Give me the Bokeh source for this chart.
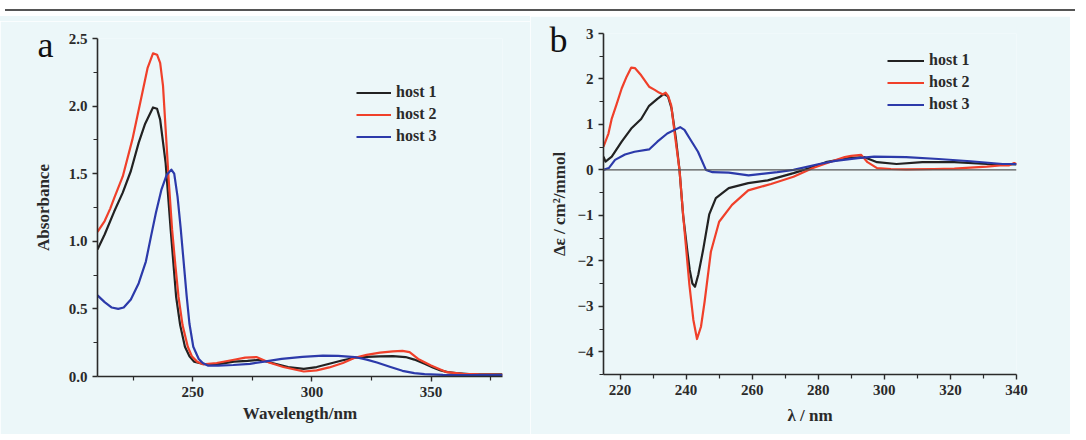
from bokeh.plotting import figure
from bokeh.layouts import row, column
from bokeh.models import (Range1d, FixedTicker, Legend, LegendItem, Span, Div,
                          LinearAxis, CustomJSTickFormatter)
from bokeh.embed import file_html
from bokeh.resources import INLINE

# ---------------- data: panel a (UV-Vis absorbance) ----------------
host1_a_x = [210, 213, 217, 220.6, 224, 227.3, 230, 233.3, 235, 236.3, 238.6, 240.7, 243, 244.7, 246.7, 248.6, 250.5,
             254, 260, 267.3, 273, 278, 284.6, 290, 296.6, 302, 307.3, 313, 318, 323, 328.6, 334, 339.3,
             343, 347.3, 351, 354, 357, 360.6, 366, 372, 380]
host1_a_y = [0.94, 1.05, 1.22, 1.36, 1.52, 1.73, 1.87, 1.99, 1.98, 1.90, 1.58, 1.09, 0.59, 0.38, 0.22, 0.15, 0.11,
             0.094, 0.09, 0.11, 0.115, 0.124, 0.094, 0.07, 0.057, 0.07, 0.094, 0.12, 0.139, 0.145, 0.149, 0.15, 0.144,
             0.125, 0.094, 0.065, 0.045, 0.032, 0.025, 0.018, 0.015, 0.015]

host2_a_x = [210, 213, 215.3, 217, 220.6, 224.6, 228.6, 231, 233.3, 235, 236.3, 237.5, 238.6, 239.9, 241.3, 242.7, 244,
             245.7, 247.9, 249.6, 251.8, 254.3, 260, 267.3, 272, 276.7, 282, 288, 296.6, 302, 307.3, 313, 318, 323,
             328.6, 334, 338, 341, 344.6, 350, 356.6, 363.3, 370, 380]
host2_a_y = [1.07, 1.15, 1.24, 1.32, 1.48, 1.75, 2.08, 2.28, 2.39, 2.38, 2.32, 2.15, 1.83, 1.45, 1.09, 0.82, 0.59,
             0.38, 0.22, 0.15, 0.11, 0.09, 0.10, 0.124, 0.14, 0.144, 0.104, 0.07, 0.037, 0.045, 0.067, 0.10, 0.139, 0.16,
             0.176, 0.186, 0.19, 0.18, 0.13, 0.082, 0.032, 0.02, 0.015, 0.012]

host3_a_x = [210, 213, 216, 218.7, 221, 224, 227.3, 230.3, 232.5, 234.5, 236.8, 239, 241, 242.2, 243.6, 244.9,
             246.2, 247.4, 248.6, 250.2, 252.5, 254.2, 256.5, 260.6, 267, 274, 280, 287.3, 296, 304.6, 311, 318, 323,
             327.3, 333, 338, 343, 347.3, 355, 365, 380]
host3_a_y = [0.60, 0.55, 0.51, 0.50, 0.51, 0.57, 0.69, 0.85, 1.04, 1.21, 1.38, 1.49, 1.53, 1.50, 1.33, 1.10,
             0.84, 0.60, 0.39, 0.22, 0.13, 0.10, 0.08, 0.08, 0.085, 0.094, 0.11, 0.13, 0.145, 0.154, 0.152, 0.144, 0.125,
             0.104, 0.07, 0.042, 0.025, 0.017, 0.012, 0.01, 0.01]

# ---------------- data: panel b (CD spectra) ----------------
host1_b_x = [215, 215.6, 217.5, 220.5, 223.4, 226.4, 228.8, 231.3, 233.3, 234.5, 235.6, 236.9, 238.0, 239.1, 240.4,
             241.1, 241.9, 242.7, 243.7, 245.1, 247, 249, 252.9, 258.8, 264.7, 272.5, 277.4, 282.3, 289.1, 294,
             297.8, 303.7, 311.5, 321.2, 331, 340]
host1_b_y = [0.29, 0.18, 0.29, 0.62, 0.91, 1.12, 1.41, 1.56, 1.67, 1.62, 1.35, 0.70, 0.0, -1.0, -1.8,
             -2.2, -2.5, -2.57, -2.3, -1.78, -0.98, -0.62, -0.40, -0.29, -0.23, -0.07, 0.04, 0.17, 0.26, 0.28,
             0.17, 0.13, 0.17, 0.17, 0.13, 0.12]

host2_b_x = [215, 216.5, 217.5, 219, 220.5, 222, 223.4, 224.5, 226.4, 228.8, 230.5, 231.8, 233, 233.8, 234.6,
             235.5, 236.6, 238.0, 239.2, 241.0, 242.2, 243.3, 244.5, 245.6, 247.5, 250, 253.9, 258.8, 265.7, 272.5,
             278.4, 284.2, 288, 290, 293, 294.9, 297.8, 302, 306.6, 315, 321.2, 326, 331, 335, 337.8, 339.3, 340]
host2_b_y = [0.51, 0.8, 1.13, 1.45, 1.79, 2.05, 2.25, 2.24, 2.08, 1.83, 1.76, 1.70, 1.66, 1.70, 1.62,
             1.42, 0.77, 0.0, -1.07, -2.53, -3.3, -3.72, -3.45, -2.90, -1.80, -1.14, -0.77, -0.45, -0.31, -0.15,
             0.04, 0.19, 0.28, 0.31, 0.33, 0.17, 0.04, 0.02, 0.01, 0.02, 0.03, 0.05, 0.07, 0.1, 0.1, 0.15, 0.13]

host3_b_x = [215, 216.6, 218.5, 221.5, 224.4, 228.8, 231.3, 234.3, 236.5, 238.2, 239.5, 241.1, 243.6, 246, 248,
             252.9, 258.9, 267.6, 272.5, 280.3, 285.2, 292, 296.9, 306.6, 316.4, 326.1, 335.8, 340]
host3_b_y = [0.0, 0.04, 0.22, 0.34, 0.40, 0.45, 0.62, 0.80, 0.88, 0.94, 0.88, 0.69, 0.40, 0.0, -0.05,
             -0.06, -0.12, -0.05, 0.0, 0.13, 0.2, 0.26, 0.29, 0.28, 0.24, 0.19, 0.13, 0.13]

series_names = ["host 1", "host 2", "host 3"]
panel_letters = ["a", "b"]
a_ticks_x = [250, 300, 350]
a_ticks_y = [0.0, 0.5, 1.0, 1.5, 2.0, 2.5]
b_ticks_x = [220, 240, 260, 280, 300, 320, 340]
b_ticks_y = [-4, -3, -2, -1, 0, 1, 2, 3]

# ---------------- styling ----------------
BG = "#ecf7f9"
INK = "#2a2a2a"
COLORS = ["#222222", "#f0402a", "#2c3aaa"]
FONT = "Liberation Serif"


def style_axes(p):
    for ax in (p.xaxis[0], p.yaxis[0]):
        ax.axis_line_color = INK
        ax.axis_line_width = 1.6
        ax.major_tick_line_color = INK
        ax.minor_tick_line_color = INK
        ax.major_tick_line_width = 1.4
        ax.minor_tick_line_width = 1.2
        ax.major_tick_out = 5
        ax.major_tick_in = 0
        ax.minor_tick_out = 4
        ax.minor_tick_in = 0
        ax.major_label_text_font = FONT
        ax.major_label_text_font_style = "bold"
        ax.major_label_text_font_size = "15px"
        ax.major_label_text_color = INK
    xa = p.xaxis[0]
    xa.axis_label_text_font = FONT
    xa.axis_label_text_font_style = "bold"
    xa.axis_label_text_font_size = "17px"
    xa.axis_label_text_color = INK
    p.grid.visible = False
    p.outline_line_color = None
    p.background_fill_color = BG
    p.border_fill_color = BG


def add_legend(p, renderers, loc, gw):
    items = [LegendItem(label=n, renderers=[r]) for n, r in zip(series_names, renderers)]
    lg = Legend(items=items, location=loc, glyph_width=gw, glyph_height=17, label_height=17,
                label_standoff=5, spacing=4, padding=0, margin=0,
                background_fill_alpha=0, border_line_color=None,
                label_text_font=FONT, label_text_font_style="bold",
                label_text_font_size="16px", label_text_color=INK)
    p.add_layout(lg, "center")


def add_outer_axis(p, letter, y_tick, label, label_standoff, letter_standoff):
    # outer bare axis: its only tick label is the panel letter, and it carries the y-axis title
    ax = LinearAxis(ticker=FixedTicker(ticks=[y_tick], minor_ticks=[]),
                    formatter=CustomJSTickFormatter(code="return '%s';" % letter),
                    axis_line_color=None, major_tick_line_color=None, minor_tick_line_color=None,
                    major_tick_out=0, major_tick_in=0, minor_tick_out=0, minor_tick_in=0,
                    major_label_standoff=letter_standoff,
                    major_label_text_font=FONT, major_label_text_font_size="36px",
                    major_label_text_color="#111111",
                    axis_label=label, axis_label_standoff=label_standoff,
                    axis_label_text_font=FONT, axis_label_text_font_style="bold",
                    axis_label_text_font_size="17px", axis_label_text_color=INK)
    p.add_layout(ax, "left")


# ---------------- panel a ----------------
pa = figure(width=530, height=413, output_backend="svg", toolbar_location=None,
            x_range=Range1d(210, 380), y_range=Range1d(0, 2.5),
            min_border_left=97, min_border_right=28, min_border_top=17, min_border_bottom=58)
style_axes(pa)
pa.xaxis[0].ticker = FixedTicker(ticks=a_ticks_x, minor_ticks=[225, 275, 325, 375])
pa.yaxis[0].ticker = FixedTicker(ticks=a_ticks_y, minor_ticks=[0.25, 0.75, 1.25, 1.75, 2.25])
pa.yaxis[0].formatter = CustomJSTickFormatter(code="return tick.toFixed(1);")
pa.xaxis[0].axis_label = "Wavelength/nm"
pa.xaxis[0].axis_label_standoff = 4
add_outer_axis(pa, panel_letters[0], 2.5, "Absorbance", -18, 12)

ra = []
for xs, ys, c in zip([host1_a_x, host2_a_x, host3_a_x], [host1_a_y, host2_a_y, host3_a_y], COLORS):
    ra.append(pa.line(xs, ys, line_color=c, line_width=2.2, line_join="round"))
add_legend(pa, ra, (259, 231), 35)

# ---------------- panel b ----------------
pb = figure(width=540, height=418, output_backend="svg", toolbar_location=None,
            x_range=Range1d(215, 340), y_range=Range1d(-4.5, 3),
            min_border_left=73, min_border_right=54, min_border_top=17, min_border_bottom=60)
style_axes(pb)
pb.xaxis[0].ticker = FixedTicker(ticks=b_ticks_x, minor_ticks=[230, 250, 270, 290, 310, 330])
pb.yaxis[0].ticker = FixedTicker(ticks=b_ticks_y, minor_ticks=[-4.5, -3.5, -2.5, -1.5, -0.5, 0.5, 1.5, 2.5])
pb.xaxis[0].axis_label = "λ / nm"
pb.xaxis[0].axis_label_standoff = 8
add_outer_axis(pb, panel_letters[1], 3, "Δε / cm²/mmol", -22, 7)

pb.add_layout(Span(location=0, dimension="width", line_color="#555555", line_width=1.3))
rb = []
for xs, ys, c in zip([host1_b_x, host2_b_x, host3_b_x], [host1_b_y, host2_b_y, host3_b_y], COLORS):
    rb.append(pb.line(xs, ys, line_color=c, line_width=2.2, line_join="round"))
add_legend(pb, rb, (284, 261), 37)

top_rule = Div(text="", width=1070, height=6,
               styles={"border-bottom": "2px solid #555555", "box-sizing": "border-box", "background": "#ffffff"})
pad_a = Div(text="", width=530, height=5, margin=(0, 0, 0, 0), styles={"background-color": BG})

layout = column(top_rule,
                row(column(pad_a, pa, spacing=0), pb, spacing=0),
                spacing=0)

open("out.html", "w").write(file_html(layout, INLINE))
